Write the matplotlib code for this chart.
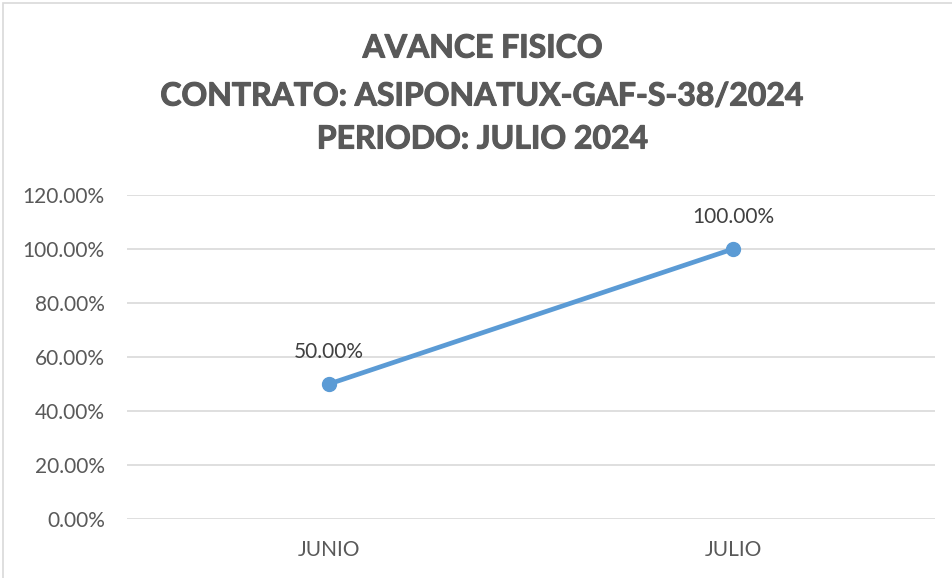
import matplotlib.pyplot as plt
import matplotlib.patheffects as pe
from matplotlib.patches import Rectangle
from matplotlib.ticker import FuncFormatter

months = ["JUNIO", "JULIO"]
avance = [0.50, 1.00]
y_ticks = [0.0, 0.2, 0.4, 0.6, 0.8, 1.0, 1.2]
title_lines = ["AVANCE FISICO", "CONTRATO: ASIPONATUX-GAF-S-38/2024", "PERIODO: JULIO 2024"]

plt.rcParams['font.family'] = ['Lato', 'DejaVu Sans']
gray = '#595959'

fig = plt.figure(figsize=(9.52, 5.78), dpi=100)
ax = fig.add_axes([127 / 952, 59 / 578, 808 / 952, 324 / 578])

x = range(len(months))
ax.plot(x, avance, color='#5B9BD5', lw=3.4, marker='o', ms=10, zorder=3, clip_on=False)
for xi, v in zip(x, avance):
    ax.annotate(f"{v * 100:.2f}%", (xi, v), xytext=(0, 16), textcoords='offset points',
                ha='center', va='bottom', fontsize=15, color='#404040')

ax.set_xlim(-0.5, len(months) - 0.5)
ax.set_ylim(0, 1.2)
ax.set_yticks(y_ticks)
ax.yaxis.set_major_formatter(FuncFormatter(lambda v, p: f"{v * 100:.2f}%"))
ax.set_xticks(list(x))
ax.set_xticklabels(months)
ax.tick_params(axis='both', length=0, labelsize=15, labelcolor=gray)
ax.tick_params(axis='y', pad=16)
ax.tick_params(axis='x', pad=15)
ax.grid(axis='y', color='#D9D9D9', lw=1.2)
ax.set_axisbelow(True)
for s in ax.spines.values():
    s.set_visible(False)

# title sits a bit right of centre, as in the original chart
fat = [pe.withStroke(linewidth=0.8, foreground=gray)]
for line, ypx in zip(title_lines, [48, 96, 139]):
    fig.text(483 / 952, 1 - ypx / 578, line, ha='center', va='center', fontsize=23,
             fontweight='bold', color=gray, path_effects=fat)

fig.patches.append(Rectangle((3 / 952, -0.1), 1.2, 1.1 - 3 / 578, transform=fig.transFigure,
                             fill=False, edgecolor='#D9D9D9', lw=1.2))

fig.savefig('out.png', dpi=100)
